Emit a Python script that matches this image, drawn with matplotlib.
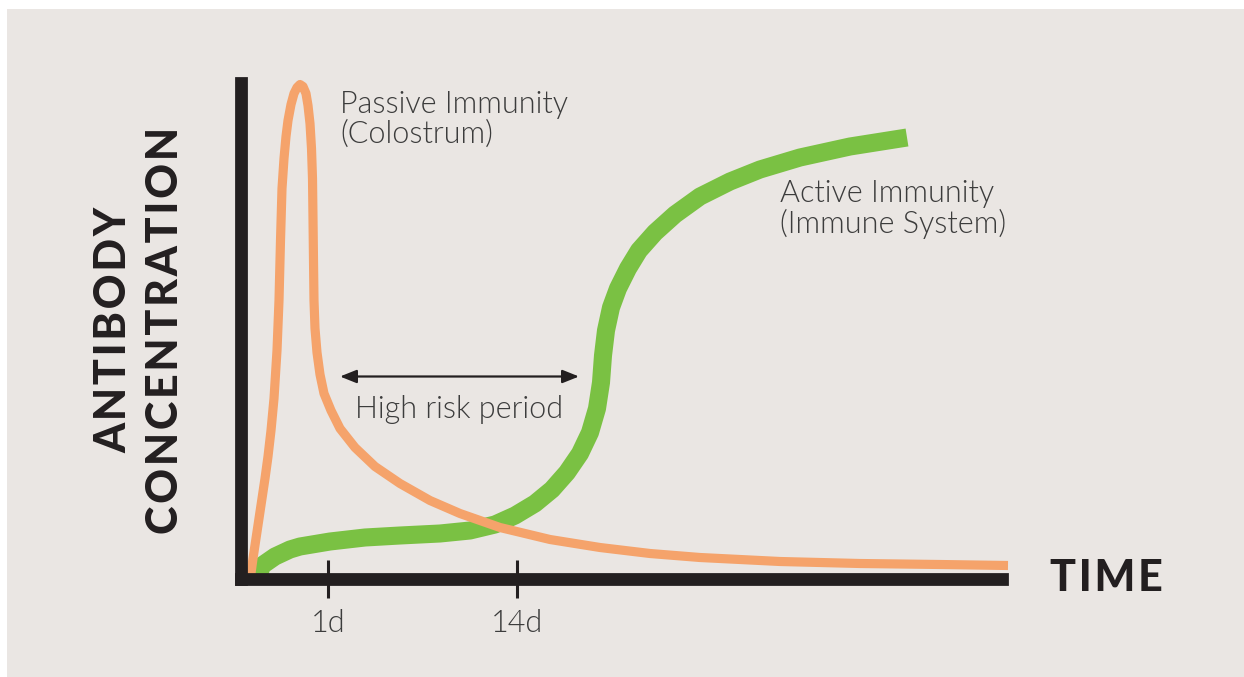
# Antibody concentration after birth: passive (colostrum) vs active immunity
import matplotlib.pyplot as plt
from matplotlib.patches import Rectangle

# curve readings (time, concentration) in chart units
passive_time = [9, 12, 15, 18, 21, 24, 27, 30, 33, 36, 38, 39.5, 41, 43, 45, 47, 50, 53, 56,
                59, 62, 65, 67, 69, 70.5, 71.5, 72, 72.5, 73, 74, 76, 79, 83, 90, 99, 114,
                134, 159, 189, 219, 259, 309, 359, 409, 459, 539, 619, 699, 767]
passive_conc = [-2, 20, 40, 60, 80, 100, 122, 148, 180, 228, 278, 338, 390, 420, 442, 458,
                474, 485, 491, 494, 492, 485, 473, 455, 430, 400, 360, 318, 278, 250, 226,
                204, 185, 168, 150, 131, 112, 95, 78, 65, 51, 39, 31, 25, 21, 17, 15, 14, 13]

active_time = [16, 21, 34, 49, 59, 89, 124, 159, 199, 229, 254, 274, 294, 311, 326, 339, 349,
               356, 360, 362, 365, 370, 377, 387, 398, 414, 434, 459, 489, 519, 559, 609, 666]
active_conc = [-2, 13, 22, 29, 32, 37, 41, 43, 45, 48, 54, 63, 75, 89, 106, 125, 146, 170,
               196, 223, 248, 271, 290, 310, 328, 346, 364, 382, 397, 409, 421, 432, 441]

tick_pos = [87, 276]
tick_labels = ["1d", "14d"]

risk_start, risk_end, risk_level = 99, 338, 202

W, H = 1244, 677
BG = "#EAE6E3"
INK = "#231F20"
TXT = "#3C3C3C"
ORANGE = "#F5A36B"
GREEN = "#7AC143"
LIGHT = 300
HEAVY = 900

plt.rcParams['font.family'] = ['Lato', 'DejaVu Sans']

fig = plt.figure(figsize=(W / 100, H / 100), dpi=100)
fig.patch.set_facecolor("white")
fig.patches.append(Rectangle((7 / W, 0), 1, 1 - 9 / H, transform=fig.transFigure,
                             facecolor=BG, edgecolor="none", zorder=-5))


def fx(px):
    return px / W


def fy(py):
    return 1 - py / H


ax = fig.add_axes([fx(241), fy(578.5), fx(1002) - fx(241), fy(83) - fy(578.5)])
ax.set_facecolor("none")
ax.set_xlim(0, 761)
ax.set_ylim(0, 495.5)

for side in ["top", "right"]:
    ax.spines[side].set_visible(False)
for side in ["left", "bottom"]:
    ax.spines[side].set_linewidth(9.2)
    ax.spines[side].set_color(INK)
    ax.spines[side].set_capstyle("projecting")
    ax.spines[side].set_zorder(5)

ax.plot(passive_time, passive_conc, color=ORANGE, lw=6.6, solid_capstyle="butt",
        solid_joinstyle="round", clip_on=False, zorder=3)
ax.plot(active_time, active_conc, color=GREEN, lw=13, solid_capstyle="butt",
        solid_joinstyle="round", clip_on=False, zorder=2)

ax.set_yticks([])
ax.set_xticks(tick_pos)
ax.set_xticklabels(tick_labels, fontsize=22, color=TXT, fontweight=LIGHT)
ax.tick_params(axis="x", direction="inout", length=28, width=2.2, color=INK, pad=8)

ax.annotate("", xy=(risk_end, risk_level), xytext=(risk_start, risk_level),
            arrowprops=dict(arrowstyle="<|-|>,head_length=1.0,head_width=0.4",
                            color=INK, lw=1.6, shrinkA=0, shrinkB=0))
ax.text((risk_start + risk_end) / 2, risk_level - 18, "High risk period", ha="center",
        va="top", fontsize=22, color=TXT, fontweight=LIGHT)

fig.text(fx(340), fy(90), "Passive Immunity\n(Colostrum)", ha="left", va="top",
         fontsize=22, color=TXT, fontweight=LIGHT, linespacing=1.05)
fig.text(fx(780), fy(179), "Active Immunity\n(Immune System)", ha="left", va="top",
         fontsize=22, color=TXT, fontweight=LIGHT, linespacing=1.05)

fig.text(fx(1050), fy(578), "T\u200aI\u200aM\u200aE", ha="left", va="center",
         fontsize=31, color=INK, fontweight=HEAVY)
fig.text(fx(139), fy(330), "A\u200aN\u200aT\u200aI\u200aB\u200aO\u200aD\u200aY\n"
         "C\u200aO\u200aN\u200aC\u200aE\u200aN\u200aT\u200aR\u200aA\u200aT\u200aI\u200aO\u200aN",
         ha="center", va="center", rotation=90, fontsize=31, color=INK,
         fontweight=HEAVY, linespacing=1.35)

fig.savefig("out.png", dpi=100, facecolor=fig.get_facecolor())
